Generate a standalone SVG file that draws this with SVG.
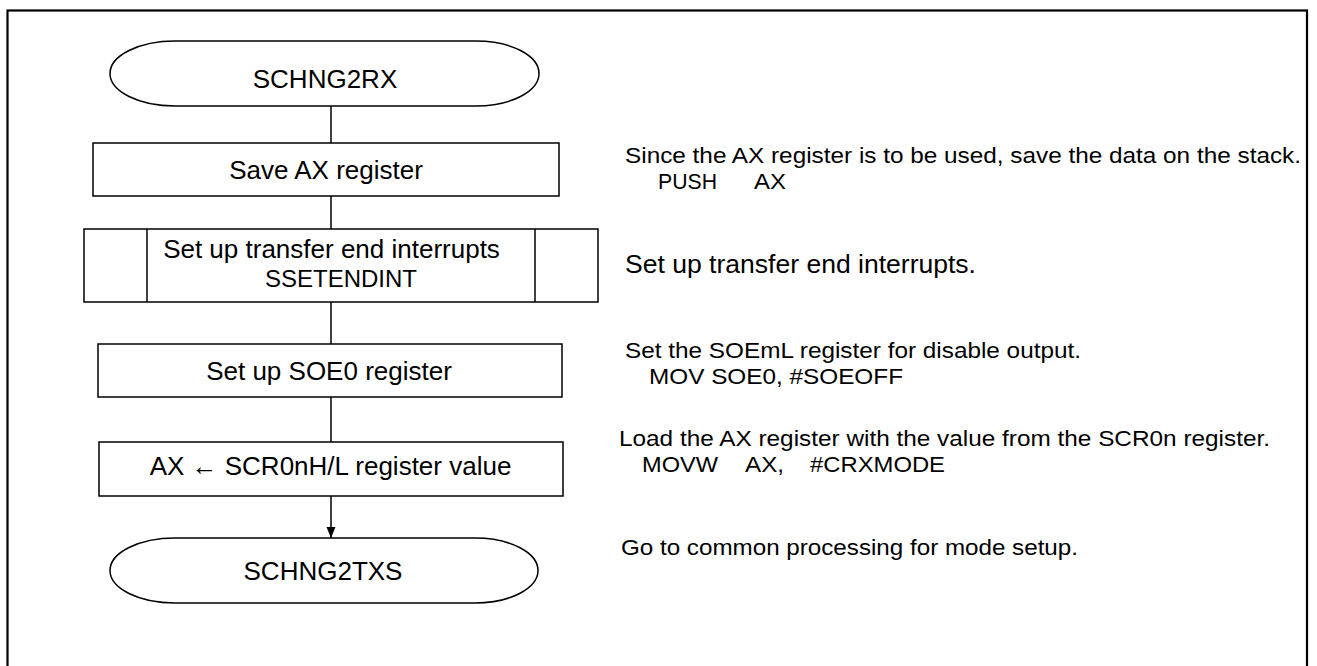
<svg xmlns="http://www.w3.org/2000/svg" width="1317" height="666" viewBox="0 0 1317 666">
<style>
.shape{fill:#fff;stroke:#000;stroke-width:1.5}
.conn{stroke:#000;stroke-width:1.5;fill:none}
.lbl{font-family:"Liberation Sans",Arial,sans-serif;font-size:26px;fill:#000;text-anchor:middle}
.note{font-family:"Liberation Sans",Arial,sans-serif;font-size:22px;fill:#000}
</style>
<defs>
<marker id="arr" markerWidth="12" markerHeight="12" refX="11" refY="5" orient="auto" markerUnits="userSpaceOnUse">
<path d="M0,0.5 L11,5 L0,9.5 Z" fill="#000"/>
</marker>
</defs>
<rect x="0" y="0" width="1317" height="666" fill="#fff"/>
<rect x="7.5" y="10.5" width="1299.5" height="670" fill="none" stroke="#000" stroke-width="2.2"/>

<g id="connectors">
<line class="conn" x1="331" y1="106" x2="331" y2="143"/>
<line class="conn" x1="331" y1="196" x2="331" y2="229"/>
<line class="conn" x1="331" y1="302" x2="331" y2="344"/>
<line class="conn" x1="331" y1="397" x2="331" y2="442"/>
<line class="conn" x1="331" y1="496" x2="331" y2="538" marker-end="url(#arr)"/>
</g>

<g id="start">
<path class="shape" d="M175,41 H476 A63,32.5 0 0 1 476,106 H175 A65,32.5 0 0 1 175,41 Z"/>
<text class="lbl" x="325" y="88">SCHNG2RX</text>
</g>

<g id="save-ax">
<rect class="shape" x="93" y="143" width="466" height="53"/>
<text class="lbl" x="326" y="179">Save AX register</text>
</g>

<g id="setendint">
<rect class="shape" x="84" y="229" width="514" height="73"/>
<line class="conn" x1="147" y1="229" x2="147" y2="302"/>
<line class="conn" x1="535" y1="229" x2="535" y2="302"/>
<text class="lbl" x="331.5" y="258">Set up transfer end interrupts</text>
<text class="lbl" x="341" y="287" style="font-size:24px">SSETENDINT</text>
</g>

<g id="soe0">
<rect class="shape" x="98" y="344" width="464" height="53"/>
<text class="lbl" x="329" y="380">Set up SOE0 register</text>
</g>

<g id="ax-scr">
<rect class="shape" x="99" y="442" width="464" height="54"/>
<text class="lbl" x="330.5" y="475">AX ← SCR0nH/L register value</text>
</g>

<g id="end">
<path class="shape" d="M175,538 H475 A63,32.5 0 0 1 475,603 H175 A65,32.5 0 0 1 175,538 Z"/>
<text class="lbl" x="323" y="580">SCHNG2TXS</text>
</g>

<g id="notes">
<text class="note" x="625" y="163" textLength="676" lengthAdjust="spacingAndGlyphs">Since the AX register is to be used, save the data on the stack.</text>
<text class="note" x="658" y="189" textLength="59" lengthAdjust="spacingAndGlyphs">PUSH</text>
<text class="note" x="754" y="189" textLength="32" lengthAdjust="spacingAndGlyphs">AX</text>
<text class="note" x="625" y="273" style="font-size:25px" textLength="351" lengthAdjust="spacingAndGlyphs">Set up transfer end interrupts.</text>
<text class="note" x="625" y="358" textLength="456" lengthAdjust="spacingAndGlyphs">Set the SOEmL register for disable output.</text>
<text class="note" x="649" y="384" textLength="254" lengthAdjust="spacingAndGlyphs">MOV SOE0, #SOEOFF</text>
<text class="note" x="619" y="446" textLength="651" lengthAdjust="spacingAndGlyphs">Load the AX register with the value from the SCR0n register.</text>
<text class="note" x="642" y="472" textLength="76" lengthAdjust="spacingAndGlyphs">MOVW</text>
<text class="note" x="745" y="472" textLength="39" lengthAdjust="spacingAndGlyphs">AX,</text>
<text class="note" x="810" y="472" textLength="135" lengthAdjust="spacingAndGlyphs">#CRXMODE</text>
<text class="note" x="621" y="555" textLength="457" lengthAdjust="spacingAndGlyphs">Go to common processing for mode setup.</text>
</g>
</svg>
